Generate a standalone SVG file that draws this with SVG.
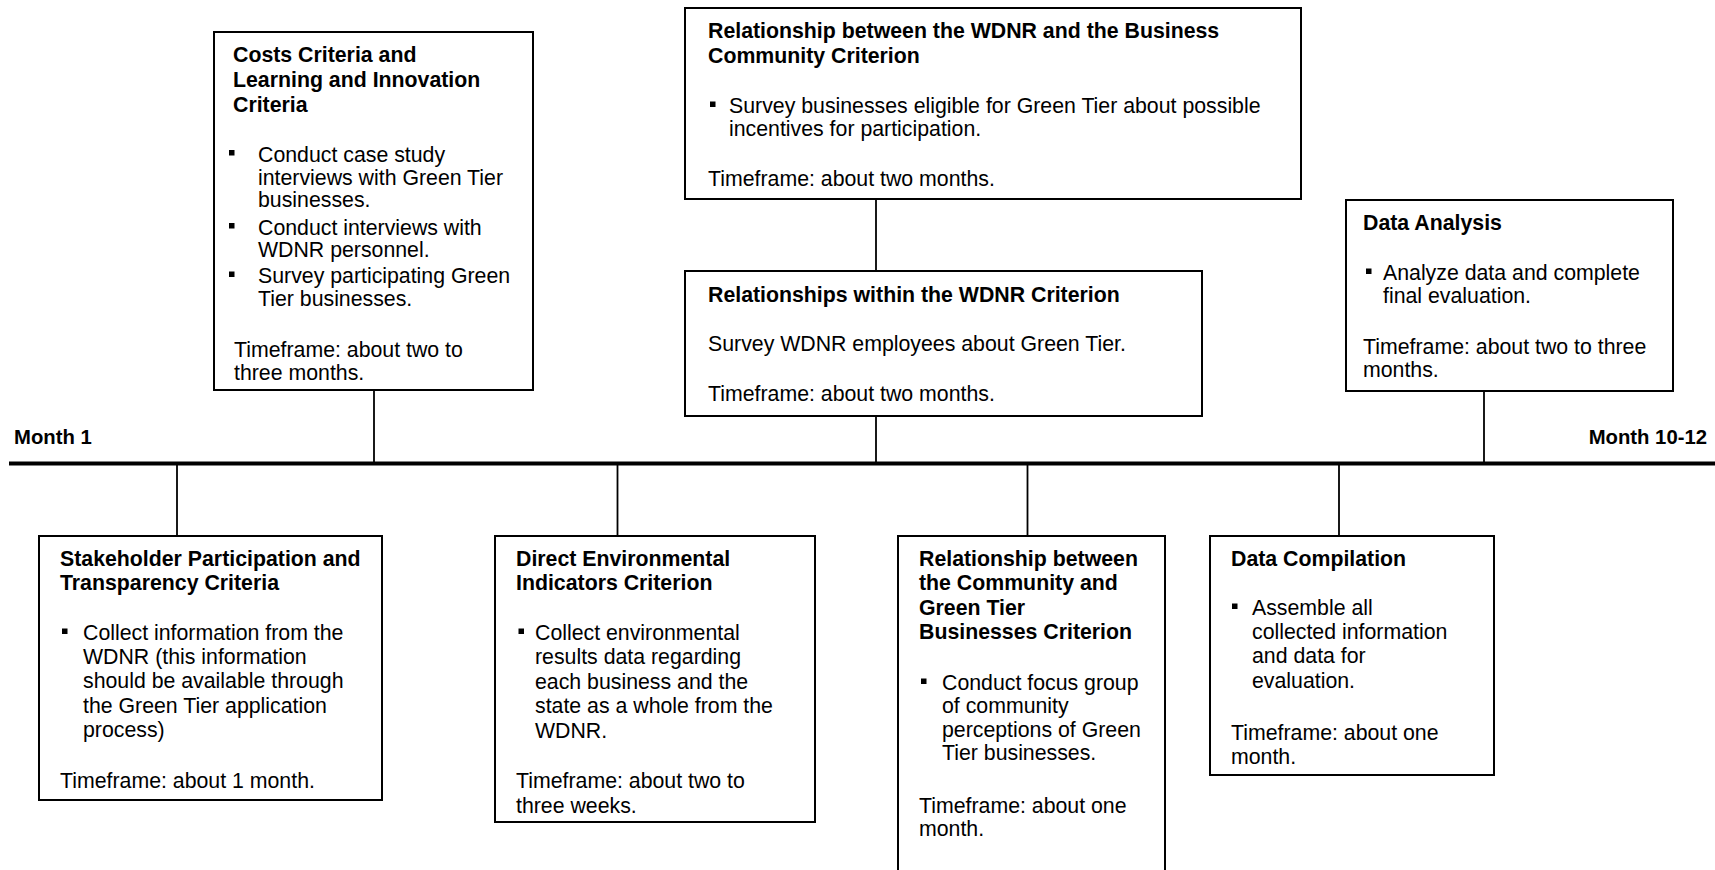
<svg xmlns="http://www.w3.org/2000/svg" xmlns:xlink="http://www.w3.org/1999/xlink" width="1715" height="870" viewBox="0 0 1715 870">
<style>
.box{fill:#fff;stroke:#000;stroke-width:2}
.t{font-family:"Liberation Sans",Arial,sans-serif;font-size:21.3px;fill:#000}
.b{font-weight:bold}
.m{font-family:"Liberation Sans",Arial,sans-serif;font-size:20.3px;font-weight:bold;fill:#000}
.conn{stroke:#000;stroke-width:1.8;fill:none}
.tl{stroke:#000;stroke-width:4;fill:none}
</style>
<defs>
<rect id="blt" width="5.5" height="5.5" fill="#000"/>
</defs>
<rect width="1715" height="870" fill="#fff"/>
<g id="connectors">
<line class="tl" x1="9" y1="463.5" x2="1715" y2="463.5"/>
<line class="conn" x1="374" y1="390" x2="374" y2="462"/>
<line class="conn" x1="876" y1="199" x2="876" y2="271"/>
<line class="conn" x1="876" y1="416" x2="876" y2="462"/>
<line class="conn" x1="1484" y1="391" x2="1484" y2="462"/>
<line class="conn" x1="177" y1="465" x2="177" y2="536"/>
<line class="conn" x1="617.5" y1="465" x2="617.5" y2="536"/>
<line class="conn" x1="1027.5" y1="465" x2="1027.5" y2="536"/>
<line class="conn" x1="1339" y1="465" x2="1339" y2="536"/>
</g>
<g id="month-labels">
<text class="m" x="14" y="444">Month 1</text>
<text class="m" x="1707" y="444" text-anchor="end">Month 10-12</text>
</g>
<g id="costs">
<rect class="box" x="214" y="32" width="319" height="358"/>
<text class="t b"><tspan x="233" y="62">Costs Criteria and</tspan><tspan x="233" y="87">Learning and Innovation</tspan><tspan x="233" y="112">Criteria</tspan></text>
<use xlink:href="#blt" x="229" y="150"/>
<use xlink:href="#blt" x="229" y="223"/>
<use xlink:href="#blt" x="229" y="271.5"/>
<text class="t"><tspan x="258" y="162">Conduct case study</tspan><tspan x="258" y="184.5">interviews with Green Tier</tspan><tspan x="258" y="207">businesses.</tspan><tspan x="258" y="234.5">Conduct interviews with</tspan><tspan x="258" y="256.5">WDNR personnel.</tspan><tspan x="258" y="283">Survey participating Green</tspan><tspan x="258" y="305.5">Tier businesses.</tspan></text>
<text class="t"><tspan x="234" y="357">Timeframe: about two to</tspan><tspan x="234" y="380">three months.</tspan></text>
</g>
<g id="rel-business">
<rect class="box" x="685" y="8" width="616" height="191"/>
<text class="t b"><tspan x="708" y="38">Relationship between the WDNR and the Business</tspan><tspan x="708" y="62.5">Community Criterion</tspan></text>
<use xlink:href="#blt" x="710" y="101.5"/>
<text class="t"><tspan x="729" y="113">Survey businesses eligible for Green Tier about possible</tspan><tspan x="729" y="136">incentives for participation.</tspan></text>
<text class="t" x="708" y="186">Timeframe: about two months.</text>
</g>
<g id="rel-wdnr">
<rect class="box" x="685" y="271" width="517" height="145"/>
<text class="t b" x="708" y="302">Relationships within the WDNR Criterion</text>
<text class="t" x="708" y="351">Survey WDNR employees about Green Tier.</text>
<text class="t" x="708" y="401">Timeframe: about two months.</text>
</g>
<g id="data-analysis">
<rect class="box" x="1346" y="200" width="327" height="191"/>
<text class="t b" x="1363" y="230">Data Analysis</text>
<use xlink:href="#blt" x="1366" y="268.5"/>
<text class="t"><tspan x="1383" y="280">Analyze data and complete</tspan><tspan x="1383" y="302.5">final evaluation.</tspan></text>
<text class="t"><tspan x="1363" y="353.5">Timeframe: about two to three</tspan><tspan x="1363" y="377">months.</tspan></text>
</g>
<g id="stakeholder">
<rect class="box" x="39" y="536" width="343" height="264"/>
<text class="t b"><tspan x="60" y="566">Stakeholder Participation and</tspan><tspan x="60" y="590">Transparency Criteria</tspan></text>
<use xlink:href="#blt" x="62" y="628.5"/>
<text class="t"><tspan x="83" y="640">Collect information from the</tspan><tspan x="83" y="664">WDNR (this information</tspan><tspan x="83" y="688">should be available through</tspan><tspan x="83" y="713">the Green Tier application</tspan><tspan x="83" y="737">process)</tspan></text>
<text class="t" x="60" y="788">Timeframe: about 1 month.</text>
</g>
<g id="direct-env">
<rect class="box" x="495" y="536" width="320" height="286"/>
<text class="t b"><tspan x="516" y="566">Direct Environmental</tspan><tspan x="516" y="590">Indicators Criterion</tspan></text>
<use xlink:href="#blt" x="518.5" y="628.5"/>
<text class="t"><tspan x="535" y="640">Collect environmental</tspan><tspan x="535" y="664">results data regarding</tspan><tspan x="535" y="688.5">each business and the</tspan><tspan x="535" y="713">state as a whole from the</tspan><tspan x="535" y="738">WDNR.</tspan></text>
<text class="t"><tspan x="516" y="788">Timeframe: about two to</tspan><tspan x="516" y="812.5">three weeks.</tspan></text>
</g>
<g id="rel-community">
<rect class="box" x="898" y="536" width="267" height="345"/>
<text class="t b"><tspan x="919" y="566">Relationship between</tspan><tspan x="919" y="590">the Community and</tspan><tspan x="919" y="615">Green Tier</tspan><tspan x="919" y="639">Businesses Criterion</tspan></text>
<use xlink:href="#blt" x="921" y="678.5"/>
<text class="t"><tspan x="942" y="690">Conduct focus group</tspan><tspan x="942" y="713">of community</tspan><tspan x="942" y="737">perceptions of Green</tspan><tspan x="942" y="760">Tier businesses.</tspan></text>
<text class="t"><tspan x="919" y="812.5">Timeframe: about one</tspan><tspan x="919" y="836">month.</tspan></text>
</g>
<g id="data-compilation">
<rect class="box" x="1210" y="536" width="284" height="239"/>
<text class="t b" x="1231" y="566">Data Compilation</text>
<use xlink:href="#blt" x="1232" y="603.5"/>
<text class="t"><tspan x="1252" y="615">Assemble all</tspan><tspan x="1252" y="638.5">collected information</tspan><tspan x="1252" y="662.5">and data for</tspan><tspan x="1252" y="687.5">evaluation.</tspan></text>
<text class="t"><tspan x="1231" y="739.5">Timeframe: about one</tspan><tspan x="1231" y="763.5">month.</tspan></text>
</g>
</svg>
